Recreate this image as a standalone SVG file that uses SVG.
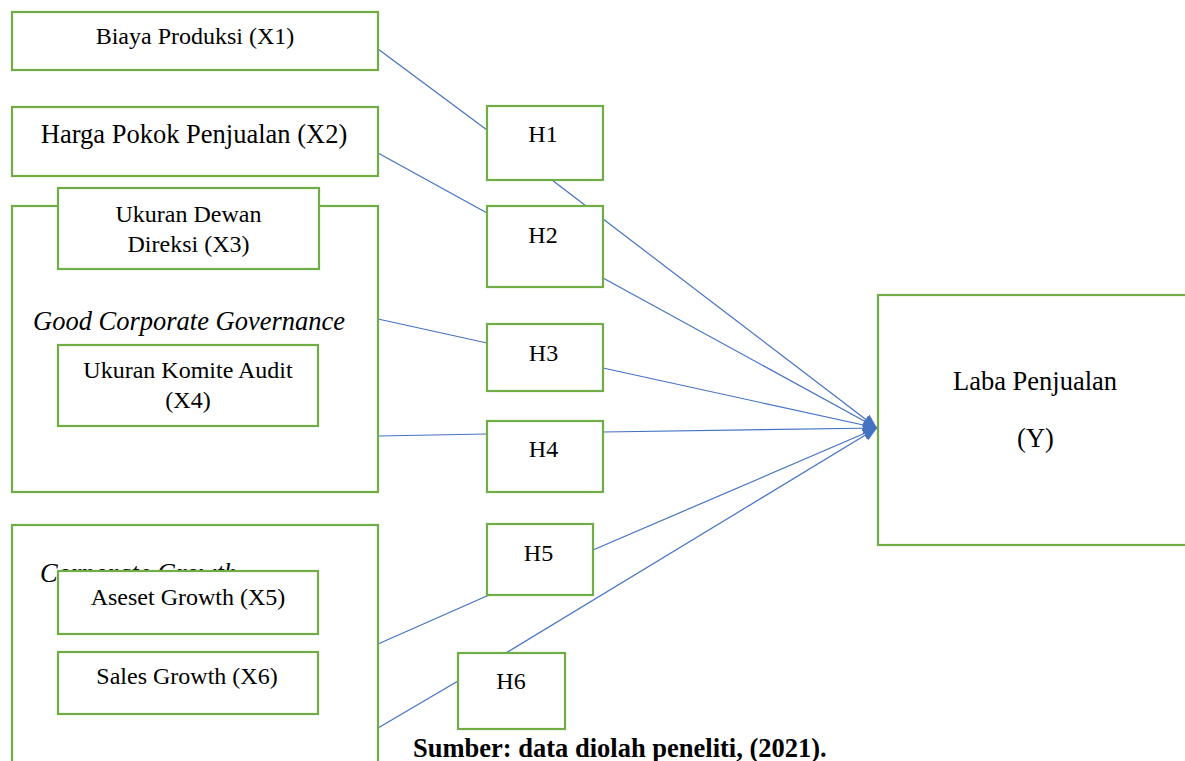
<svg xmlns="http://www.w3.org/2000/svg" width="1185" height="761" viewBox="0 0 1185 761">
<style>
  .box { fill: #ffffff; stroke: #70AD47; stroke-width: 2.2; }
  .t { font-family: "Liberation Serif", "Times New Roman", serif; font-size: 24px; fill: #000; text-anchor: middle; }
  .big { font-size: 26.5px; }
  .it { font-style: italic; text-anchor: start; }
  .cap { font-family: "Liberation Serif", "Times New Roman", serif; font-size: 26.5px; font-weight: bold; fill: #000; }
  .ln { stroke: #4472C4; stroke-width: 1.2; fill: none; }
  .arr { marker-end: url(#ah); }
</style>
<defs>
  <marker id="ah" markerUnits="userSpaceOnUse" markerWidth="15" markerHeight="13" refX="14" refY="6" orient="auto">
    <path d="M0,0 L14,6 L0,12 z" fill="#4472C4"/>
  </marker>
</defs>
<rect width="1185" height="761" fill="#ffffff"/>

<g id="connectors">
  <line class="ln" x1="378" y1="49" x2="487" y2="130"/>
  <line class="ln" x1="378" y1="153" x2="487" y2="213"/>
  <line class="ln" x1="378" y1="319" x2="487" y2="343"/>
  <line class="ln" x1="378" y1="436" x2="487" y2="434"/>
  <line class="ln" x1="378" y1="644" x2="489" y2="595"/>
  <line class="ln" x1="378" y1="728" x2="458" y2="681"/>
  <line class="ln arr" x1="552" y1="180" x2="877" y2="428"/>
  <line class="ln arr" x1="603" y1="278" x2="877" y2="428"/>
  <line class="ln arr" x1="603" y1="368" x2="877" y2="428"/>
  <line class="ln arr" x1="603" y1="432" x2="877" y2="428"/>
  <line class="ln arr" x1="593" y1="550" x2="877" y2="428"/>
  <line class="ln arr" x1="506" y1="653" x2="877" y2="428"/>
</g>

<g id="x1">
  <rect class="box" x="12" y="12" width="366" height="58"/>
  <text class="t" x="195" y="44">Biaya Produksi (X1)</text>
</g>
<g id="x2">
  <rect class="box" x="12" y="107" width="366" height="69"/>
  <text class="t big" x="194" y="143">Harga Pokok Penjualan (X2)</text>
</g>
<g id="gcg">
  <rect class="box" x="12" y="206" width="366" height="286"/>
  <text class="t big it" x="33" y="330">Good Corporate Governance</text>
</g>
<g id="x3">
  <rect class="box" x="58" y="188" width="261" height="81"/>
  <text class="t" x="188.5" y="222">Ukuran Dewan</text>
  <text class="t" x="188.5" y="252">Direksi (X3)</text>
</g>
<g id="x4">
  <rect class="box" x="58" y="345" width="260" height="81"/>
  <text class="t" x="188" y="378">Ukuran Komite Audit</text>
  <text class="t" x="188" y="408">(X4)</text>
</g>
<g id="cg">
  <rect class="box" x="12" y="525" width="366" height="250"/>
  <text class="t big it" x="40" y="582">Corporate Growth</text>
</g>
<g id="x5">
  <rect class="box" x="58" y="571" width="260" height="63"/>
  <text class="t" x="188" y="605">Aseset Growth (X5)</text>
</g>
<g id="x6">
  <rect class="box" x="58" y="652" width="260" height="62"/>
  <text class="t" x="187" y="684">Sales Growth (X6)</text>
</g>

<g id="h1">
  <rect class="box" x="487" y="106" width="116" height="74"/>
  <text class="t" x="543" y="142">H1</text>
</g>
<g id="h2">
  <rect class="box" x="487" y="206" width="116" height="81"/>
  <text class="t" x="543" y="243">H2</text>
</g>
<g id="h3">
  <rect class="box" x="487" y="324" width="116" height="67"/>
  <text class="t" x="543.5" y="361">H3</text>
</g>
<g id="h4">
  <rect class="box" x="487" y="421" width="116" height="71"/>
  <text class="t" x="543.5" y="457">H4</text>
</g>
<g id="h5">
  <rect class="box" x="487" y="524" width="106" height="71"/>
  <text class="t" x="538.5" y="561">H5</text>
</g>
<g id="h6">
  <rect class="box" x="458" y="653" width="107" height="76"/>
  <text class="t" x="511" y="689">H6</text>
</g>

<g id="y">
  <rect class="box" x="878" y="295" width="320" height="250"/>
  <text class="t big" x="1035" y="390">Laba Penjualan</text>
  <text class="t big" x="1035.5" y="447">(Y)</text>
</g>

<text class="cap" x="413" y="757">Sumber: data diolah peneliti, (2021).</text>
</svg>
